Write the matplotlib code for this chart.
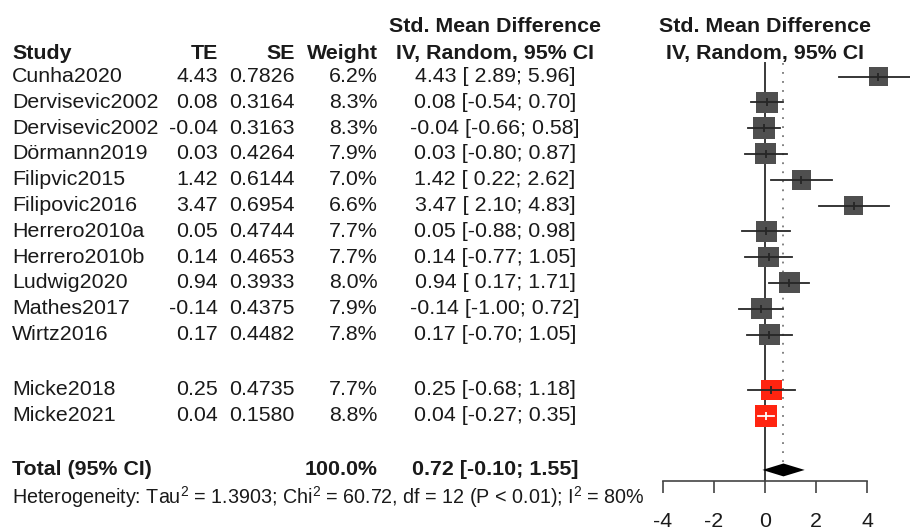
import matplotlib
matplotlib.use("Agg")
import matplotlib.pyplot as plt
import matplotlib.transforms as mtransforms
import numpy as np

plt.rcParams['font.family'] = ['Liberation Sans', 'DejaVu Sans']
plt.rcParams['mathtext.fontset'] = 'custom'
plt.rcParams['mathtext.rm'] = 'Liberation Sans'
plt.rcParams['mathtext.default'] = 'regular'
plt.rcParams['axes.unicode_minus'] = False

# -----------------------------------------------------------------------------------
#                                  Forest plot data
# -----------------------------------------------------------------------------------
studies = ["Cunha2020", "Dervisevic2002", "Dervisevic2002", "Dörmann2019", "Filipvic2015",
           "Filipovic2016", "Herrero2010a", "Herrero2010b", "Ludwig2020", "Mathes2017",
           "Wirtz2016", "Micke2018", "Micke2021"]
te = [4.43, 0.08, -0.04, 0.03, 1.42, 3.47, 0.05, 0.14, 0.94, -0.14, 0.17, 0.25, 0.04]
se = [0.7826, 0.3164, 0.3163, 0.4264, 0.6144, 0.6954, 0.4744, 0.4653, 0.3933, 0.4375,
      0.4482, 0.4735, 0.1580]
weight = [6.2, 8.3, 8.3, 7.9, 7.0, 6.6, 7.7, 7.7, 8.0, 7.9, 7.8, 7.7, 8.8]
lower = [2.89, -0.54, -0.66, -0.80, 0.22, 2.10, -0.88, -0.77, 0.17, -1.00, -0.70, -0.68, -0.27]
upper = [5.96, 0.70, 0.58, 0.87, 2.62, 4.83, 0.98, 1.05, 1.71, 0.72, 1.05, 1.18, 0.35]
group = [0] * 11 + [1] * 2

pooled = 0.72
pooled_lower = -0.10
pooled_upper = 1.55
heterogeneity = r"Heterogeneity: Tau$^2$ = 1.3903; Chi$^2$ = 60.72, df = 12 (P < 0.01); I$^2$ = 80%"
x_ticks = [-4, -2, 0, 2, 4]

# -----------------------------------------------------------------------------------
#                                  Layout
# -----------------------------------------------------------------------------------
W, H = 910, 530
px_zero, px_unit = 765, 25.6      # pixel of x=0 and pixels per unit
py_first, py_row = 76.5, 25.8     # pixel of first study row and row height
gap = 2.15                        # rows between groups

rows = np.array([i + g * (gap - 1) for i, g in enumerate(group)])
total_row = rows[-1] + 2.1
het_row = total_row + 1.0
axis_row = total_row + 0.43

fig = plt.figure(figsize=(W / 100, H / 100), dpi=100)
ax = fig.add_axes([0, 0, 1, 1])
ax.set_xlim(-px_zero / px_unit, (W - px_zero) / px_unit)
ax.set_ylim((H - py_first) / py_row, -py_first / py_row)

# text columns: x in figure pixels, y in rows
tr = mtransforms.blended_transform_factory(fig.transFigure, ax.transData)
txt = '#1a1a1a'
fs = 15.4


def put(px, row, s, ha='left', bold=False, size=fs):
    ax.text(px / W, row, s, transform=tr, ha=ha, va='center', fontsize=size,
            color=txt, fontweight='bold' if bold else 'normal')


# headers
put(12, -0.88, "Study", bold=True)
put(218, -0.88, "TE", ha='right', bold=True)
put(295, -0.88, "SE", ha='right', bold=True)
put(378, -0.88, "Weight", ha='right', bold=True)
put(495, -1.93, "Std. Mean Difference", ha='center', bold=True)
put(495, -0.88, "IV, Random, 95% CI", ha='center', bold=True)
put(px_zero, -1.93, "Std. Mean Difference", ha='center', bold=True)
put(px_zero, -0.88, "IV, Random, 95% CI", ha='center', bold=True)


def fmt(v):
    s = "%.2f" % v
    return s if v < 0 else " " + s


for i, r in enumerate(rows):
    put(12, r, studies[i])
    put(218, r, "%.2f" % te[i], ha='right')
    put(295, r, "%.4f" % se[i], ha='right')
    put(378, r, "%.1f%%" % weight[i], ha='right')
    put(495, r, "%.2f [%s; %.2f]" % (te[i], fmt(lower[i]), upper[i]), ha='center')

put(12, total_row, "Total (95% CI)", bold=True)
put(378, total_row, "100.0%", ha='right', bold=True)
put(495, total_row, "%.2f [%.2f; %.2f]" % (pooled, pooled_lower, pooled_upper),
    ha='center', bold=True)
put(12, het_row + 0.05, heterogeneity, size=14.2)

# reference lines
ax.plot([0, 0], [-0.52, axis_row], color='#3a3a3a', lw=1.4, zorder=1)
ax.plot([pooled, pooled], [-0.52, total_row - 0.25], color='#777777', lw=1.3,
        ls=(0, (1, 4)), zorder=1)

# squares and confidence intervals
colors = ['#4f4f4f' if g == 0 else '#ff2410' for g in group]
ax.scatter(te, rows, s=np.array(weight) * 28.5, marker='s', c=colors,
           edgecolors='none', zorder=2)
for i, r in enumerate(rows):
    side = 7.4 * np.sqrt(weight[i]) / px_unit
    inside = (upper[i] - lower[i]) < side
    lc = 'white' if inside else '#262626'
    ax.plot([lower[i], upper[i]], [r, r], color=lc, lw=1.3, zorder=3)
    ax.plot([te[i]], [r], marker='|', ms=6, mew=1.3, color=lc, zorder=3)

# pooled diamond
ax.fill([pooled_lower, pooled, pooled_upper, pooled],
        [total_row, total_row - 0.25, total_row, total_row + 0.25],
        color='black', zorder=3, lw=0)

# x axis
for side in ['top', 'left', 'right']:
    ax.spines[side].set_visible(False)
ax.spines['bottom'].set_position(('data', axis_row))
ax.spines['bottom'].set_bounds(x_ticks[0], x_ticks[-1])
ax.spines['bottom'].set_color('#444444')
ax.spines['bottom'].set_linewidth(1.2)
ax.set_xticks(x_ticks)
ax.set_xticklabels([str(t) for t in x_ticks])
ax.tick_params(axis='x', direction='out', length=8.6, width=1.2, color='#444444',
               labelsize=15.4, pad=14, labelcolor=txt)
ax.set_yticks([])

plt.savefig("out.png", dpi=100)
